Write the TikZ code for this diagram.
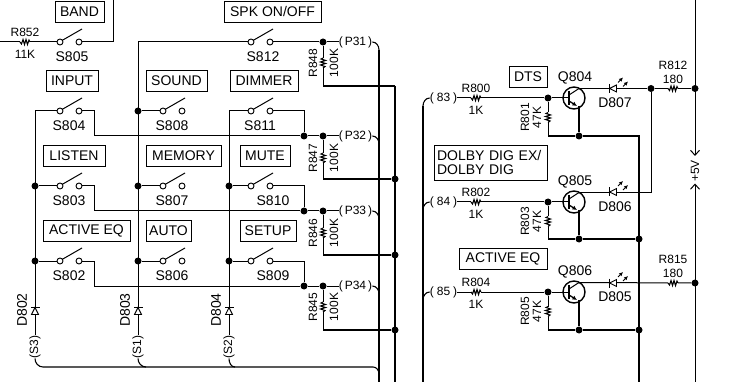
\documentclass[tikz,border=0pt]{standalone}
\usepackage{fontspec}
\setmainfont{Liberation Sans}
\usetikzlibrary{arrows.meta}
\tikzset{
    wire/.style={line width=1pt},
    bus/.style={line width=1.7pt},
    big/.style={font=\fontsize{14}{14}\selectfont,inner sep=0pt},
    small/.style={font=\fontsize{12}{12}\selectfont,inner sep=0pt},
    keybox/.style={big,draw,line width=0.8pt,minimum height=21pt},
    contact/.style={draw,line width=0.9pt,circle,fill=white,minimum size=6pt,inner sep=0pt},
    junction/.style={circle,fill=black,minimum size=7pt,inner sep=0pt},
    res/.pic={
        \fill[white] (-5,-3) rectangle (5,3);
        \draw[line width=1.1pt] (-5,0)--(-3.5,2)--(-2,-2.5)--(-0.5,2.5)--(1,-2.5)--(2.5,2.5)--(4,-2)--(5,0);
    },
    diode/.pic={
        \fill[white] (-3.5,-4) rectangle (3.5,4);
        \draw[line width=0.9pt,fill=white] (-3.5,0)--(3.5,-3.5)--(3.5,3.5)--cycle;
        \draw[line width=1.5pt] (-3.5,-4.5)--(-3.5,4.5);
    },
    glow/.pic={
        \draw[line width=1pt,-{Latex[length=4pt,width=4pt]}] (0,0)--(5,-5);
        \draw[line width=1pt,-{Latex[length=4pt,width=4pt]}] (5,4)--(10,-1);
    },
}

\begin{document}
\begin{tikzpicture}[x=1pt,y=-1pt]
    \useasboundingbox (0,0) rectangle (744,382);
    % key names
    \foreach \nm/\x/\y/\w/\txt in {band/79.5/11.5/49/BAND, input/72/80.5/52/INPUT, sound/176.5/80.5/61/SOUND, dimmer/264/80.5/68/DIMMER, listen/74/155.5/62/LISTEN, memory/183.5/155.5/75/MEMORY, mute/265/155.5/50/MUTE, acteq/86.5/230.5/87/ACTIVE EQ, auto/168.5/230.5/45/AUTO, setup/268/230.5/56/SETUP, dts/528/77/38/DTS, acteqb/503/258.5/88/ACTIVE EQ}{
        \node[keybox,minimum width=\w pt] (\nm) at (\x,\y) {\txt};
    }
    \node[keybox,minimum width=97pt] (spk) at (272.5,11.5) {SPK ON/OFF};
    \node[keybox,minimum width=113pt,minimum height=35pt,align=left,text width=107pt,font=\fontsize{14}{13.5}\selectfont] (dolby) at (490.5,162.5) {DOLBY DIG EX/\\DOLBY DIG};
    % switches
    \foreach \nm/\x/\y/\lx in {s805/60/42/72, s804/60/111/69, s803/60/186/69, s802/60/261/69, s808/163/111/172, s807/163/186/172, s806/163/261/172, s812/251/42/263, s811/251/111/260, s810/251/186/273, s809/251/261/273}{
        \node[contact] (\nm a) at (\x,\y) {};
        \node[contact] (\nm b) at (\x+19,\y) {};
        \draw[line width=1pt] (\x+2,\y-1.5)--(\x+22,\y-13);
        \node[big] (\nm) at (\lx,\y+14.5) {\MakeUppercase{\nm}};
    }
    % junctions on the switch columns
    \foreach \nm/\x/\y in {ja/35/186, jb/35/261, jc/138/111, jd/138/186, je/138/261, jf/229/186, jg/229/261, jh/304/136, ji/304/211, jj/304/286}{
        \node[junction] (\nm) at (\x,\y) {};
    }
    % rows going out to the connector
    \foreach \n/\y/\by/\rn/\ry in {31/42/86/848/63, 32/136/179/847/158, 33/211/255/846/233, 34/286/330/845/307}{
        \node[junction] (jp\n) at (323,\y) {};
        \node[small] (p\n) at (355.5,\y) {(\,P\n\,)};
        \node[small,rotate=90] (r\rn) at (313,\ry) {R\rn};
        \node[small,rotate=90] (v\rn) at (334,\ry) {100K};
        \coordinate (c\n) at (323,\by);
        \draw[wire] (jp\n)--(p\n);
        \draw[wire] (jp\n)--(c\n);
        \draw[line width=1.1pt] (p\n.east) to[out=0,in=90] (379,\y+8);
    }
    \coordinate (jq31) at (395,86);
    \foreach \n/\y in {32/179, 33/255, 34/330}{
        \node[junction] (jq\n) at (395,\y) {};
    }
    \foreach \n in {31,32,33,34}{
        \draw[bus] (c\n)--(jq\n);
    }
    \draw[bus] (jq31)--(395,382);
    \draw[bus] (379,50)--(379,382);
    % top row
    \coordinate (t1) at (0,42);
    \coordinate (t2) at (113,0);
    \node[small] (r852) at (25,32) {R852};
    \node[small] (r852v) at (25,54) {11K};
    \draw[wire] (t1)--(s805a);
    \draw[wire] (s805b)-|(t2);
    \draw[wire] (s812b)--(jp31);
    % matrix
    \node[small,rotate=90] (s3) at (35,347) {(S3)};
    \node[small,rotate=90] (s1) at (138,347) {(S1)};
    \node[small,rotate=90] (s2) at (229,347) {(S2)};
    \draw[wire] (s804a)-|(s3);
    \draw[wire] (s812a)-|(s1);
    \draw[wire] (s811a)-|(s2);
    \draw[wire] (s803a)--(ja);
    \draw[wire] (s802a)--(jb);
    \draw[wire] (s808a)--(jc);
    \draw[wire] (s807a)--(jd);
    \draw[wire] (s806a)--(je);
    \draw[wire] (s810a)--(jf);
    \draw[wire] (s809a)--(jg);
    \draw[wire] (s811b)-|(jh);
    \draw[wire] (s810b)-|(ji);
    \draw[wire] (s809b)-|(jj);
    \draw[wire] (s804b)--(94,111)|-(jh);
    \draw[wire] (s803b)--(94,186)|-(ji);
    \draw[wire] (s802b)--(94,261)|-(jj);
    \draw[wire] (jh)--(jp32);
    \draw[wire] (ji)--(jp33);
    \draw[wire] (jj)--(jp34);
    \draw[line width=1.1pt] (s3.west) to[out=-90,in=180] (43,367)--(373,367) to[out=0,in=90] (379,374);
    \draw[line width=1.1pt] (s1.west) to[out=-90,in=180] (146,367);
    \draw[line width=1.1pt] (s2.west) to[out=-90,in=180] (235,367);
    \node[big,rotate=90] (d802) at (22,310) {D802};
    \node[big,rotate=90] (d803) at (125,310) {D803};
    \node[big,rotate=90] (d804) at (216,310) {D804};
    % right hand side, the three lamps
    \foreach \n/\y/\rn/\rb/\by in {83/98/800/801/136, 84/202/802/803/239, 85/292/804/805/330}{
        \node[small] (n\n) at (443.5,\y) {(\kern3pt\n\kern3pt)};
        \node[junction] (jr\n) at (548,\y) {};
        \node[junction] (je\n) at (579,\by) {};
        \node[small] (r\rn) at (476,\y-10) {R\rn};
        \node[small] (r\rn v) at (476,\y+12) {1K};
        \node[small,rotate=90] (r\rb) at (525,\y+19.5) {R\rb};
        \node[small,rotate=90] (r\rb v) at (537,\y+19.5) {47K};
        \coordinate (c\rb) at (548,\by);
        \coordinate (ch\n) at (423,\y+8);
        \draw[line width=1.1pt] (n\n.west) to[out=180,in=90] (ch\n);
        \draw[wire] (n\n)--(jr\n);
        \draw[wire] (jr\n)--(c\rb);
        \draw[bus] (c\rb)--(je\n);
    }
    \draw[bus] (ch83)--(423,382);
    \foreach \nm/\y/\txt in {q804/98/Q804, q805/202/Q805, q806/292/Q806}{
        \node[draw,circle,line width=1.4pt,minimum size=22pt,inner sep=0pt] (\nm) at (574,\y) {};
        \node[big] (\nm t) at (575,\y-20.5) {\txt};
        \draw[line width=1.5pt] (569,\y-7)--(569,\y+7);
        \draw[line width=1pt] (569,\y-3)--(579,\y-9.5);
        \draw[line width=1.3pt,-{Latex[length=4.5pt,width=4.5pt]}] (569,\y+3)--(577,\y+8);
        \coordinate (\nm c) at (579,\y-9.5);
        \coordinate (\nm e) at (579,\y+8);
        \coordinate (\nm b) at (569,\y);
    }
    \draw[wire] (jr83)--(q804b);
    \draw[wire] (jr84)--(q805b);
    \draw[wire] (jr85)--(q806b);
    \draw[bus] (q804e)--(je83);
    \draw[bus] (q805e)--(je84);
    \draw[bus] (q806e)--(je85);
    \node[junction] (jt1) at (639,239) {};
    \node[junction] (jt2) at (639,330) {};
    \draw[bus] (je84)--(jt1);
    \draw[bus] (je85)--(jt2);
    \draw[bus] (je83)-|(639,382);
    \node[junction] (jled) at (651,88.5) {};
    \node[junction] (jv1) at (695,88.5) {};
    \node[junction] (jv2) at (695,283) {};
    \draw[wire] (q804c)--(jled);
    \draw[wire] (jled)--(jv1);
    \draw[wire] (q805c)-|(jled);
    \draw[wire] (q806c)--(jv2);
    \node[big] (d807) at (615,103) {D807};
    \node[big] (d806) at (615,206.5) {D806};
    \node[big] (d805) at (615,297) {D805};
    \node[small] (r812) at (673,65.5) {R812};
    \node[small] (r812v) at (673,79) {180};
    \node[small] (r815) at (673,259.5) {R815};
    \node[small] (r815v) at (673,273) {180};
    % supply
    \coordinate (v1) at (695,0);
    \coordinate (v2) at (695,156);
    \coordinate (v3) at (695,382);
    \coordinate (v4) at (695,183.5);
    \node[small,rotate=90] (plus) at (695,171) {+5V};
    \draw[wire,-{Straight Barb[length=5pt,width=9pt]}] (v1)--(v2);
    \draw[wire,-{Straight Barb[length=5pt,width=9pt]}] (v3)--(v4);
    % parts sitting on the wires
    \pic at (25,42) {res};
    \foreach \ry in {63,158,233,307}{
        \pic[rotate=90] at (323,\ry) {res};
    }
    \foreach \y in {98,202,292}{
        \pic at (476,\y) {res};
        \pic[rotate=90] at (548,\y+19.5) {res};
    }
    \pic at (673,88.5) {res};
    \pic at (673,283) {res};
    \foreach \x in {35,138,229}{
        \pic[rotate=-90] at (\x,311) {diode};
    }
    \foreach \y in {88.5,192,283}{
        \pic at (613,\y) {diode};
        \pic at (618,\y-6) {glow};
    }
\end{tikzpicture}
\end{document}
